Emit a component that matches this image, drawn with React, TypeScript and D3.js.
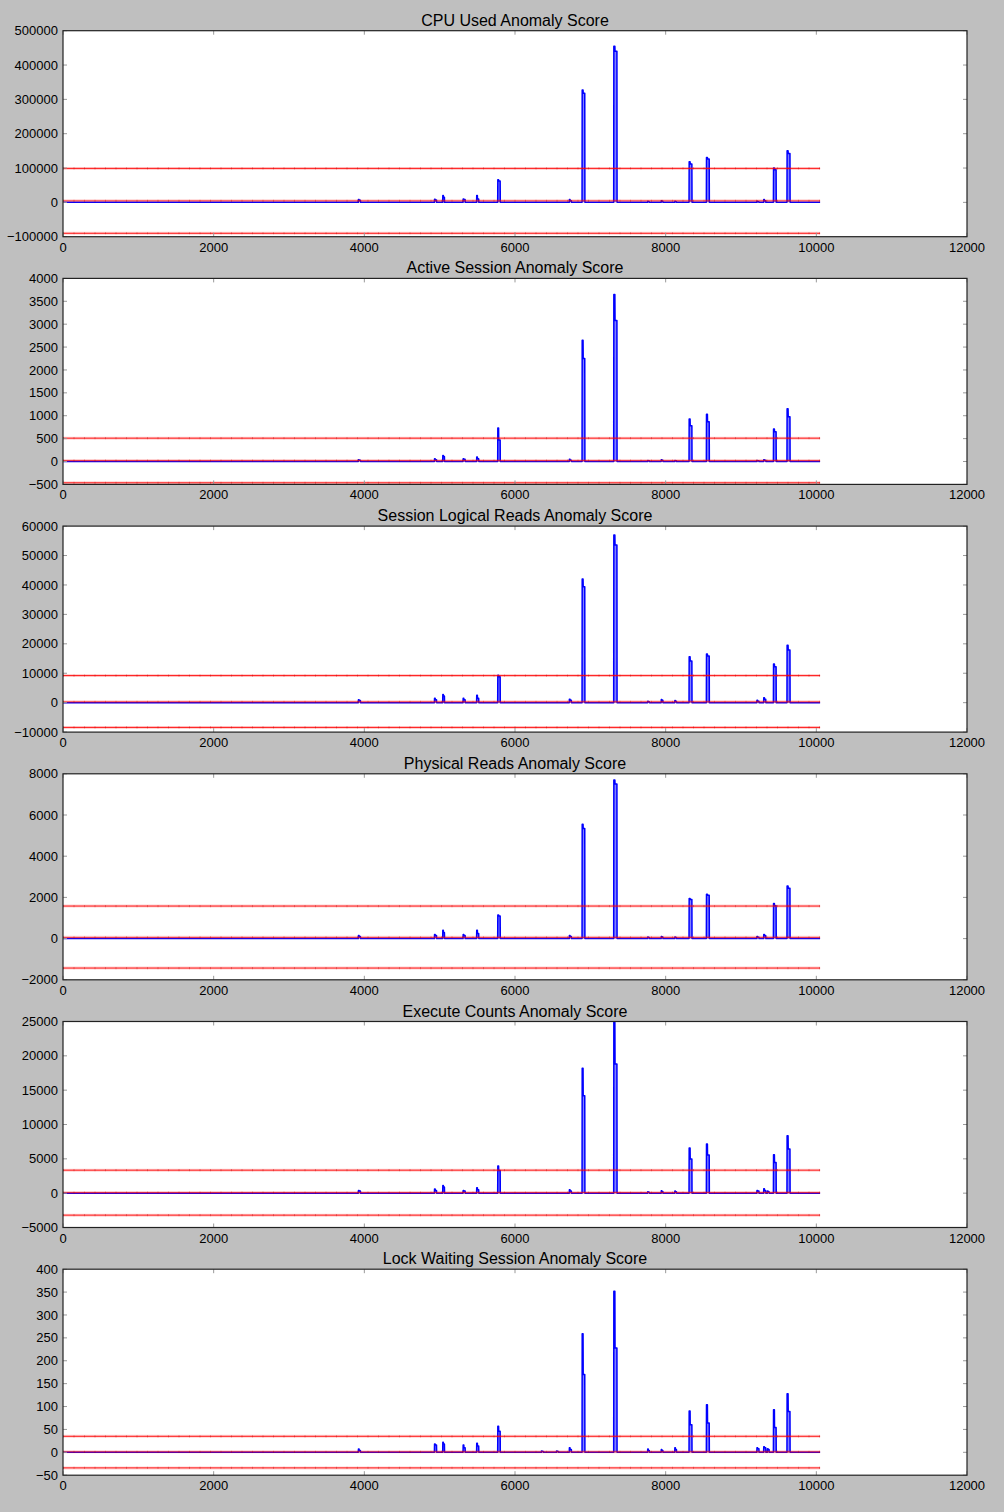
import React from "react";
import * as d3 from "d3";

// shared spike positions (sample index) and widths
const spikeX = [3920, 4930, 5040, 5310, 5490, 5770, 6350, 6550, 6720, 6890, 7310, 7760, 7940, 8120, 8310, 8540, 9210, 9300, 9350, 9430, 9610];
const spikeW = [30, 30, 25, 30, 30, 35, 30, 30, 30, 38, 45, 25, 25, 25, 40, 40, 30, 30, 25, 38, 42];
const xTicks = [0, 2000, 4000, 6000, 8000, 10000, 12000];
const seriesEnd = 10050;

const titles = [
  "CPU Used Anomaly Score",
  "Active Session Anomaly Score",
  "Session Logical Reads Anomaly Score",
  "Physical Reads Anomaly Score",
  "Execute Counts Anomaly Score",
  "Lock Waiting Session Anomaly Score",
];

const cpuPeak = [8000, 9000, 20000, 10000, 20000, 66000, 0, 0, 8000, 327000, 455000, 3000, 5000, 3000, 118000, 131000, 3000, 8000, 0, 100000, 150000];
const cpuTail = [6000, 7000, 15000, 8000, 10000, 62000, 0, 0, 5000, 318000, 440000, 2000, 3000, 2000, 112000, 126000, 2000, 5000, 0, 95000, 142000];
const activePeak = [40, 60, 130, 60, 100, 730, 0, 0, 50, 2650, 3650, 20, 40, 20, 930, 1030, 20, 40, 0, 710, 1150];
const activeTail = [30, 40, 110, 50, 60, 470, 0, 0, 30, 2250, 3080, 15, 30, 15, 780, 870, 15, 30, 0, 650, 980];
const logicalPeak = [1000, 1500, 2800, 1500, 2500, 9300, 0, 0, 1200, 42000, 57000, 500, 1100, 700, 15600, 16500, 800, 1700, 0, 13100, 19500];
const logicalTail = [700, 1000, 2300, 1000, 1500, 8800, 0, 0, 800, 39400, 53600, 300, 800, 500, 14200, 15900, 500, 1200, 0, 12200, 17900];
const physicalPeak = [150, 200, 400, 200, 400, 1150, 0, 0, 150, 5550, 7700, 80, 100, 80, 1950, 2150, 100, 200, 0, 1700, 2550];
const physicalTail = [100, 150, 300, 150, 250, 1100, 0, 0, 100, 5350, 7500, 50, 80, 50, 1900, 2100, 70, 150, 0, 1600, 2450];
const executePeak = [400, 600, 1100, 400, 800, 3950, 0, 0, 500, 18200, 24900, 200, 350, 300, 6570, 7150, 400, 640, 300, 5600, 8360];
const executeTail = [300, 400, 900, 300, 500, 3300, 0, 0, 300, 14200, 18800, 150, 250, 200, 4960, 5550, 300, 400, 200, 4470, 6420];
const lockPeak = [7, 18, 22, 16, 20, 57, 3, 3, 10, 259, 352, 7, 6, 10, 90, 104, 10, 12, 8, 93, 128];
const lockTail = [4, 16, 18, 10, 14, 46, 2, 2, 6, 170, 228, 4, 4, 6, 60, 64, 8, 10, 6, 54, 89];

const peaks = [cpuPeak, activePeak, logicalPeak, physicalPeak, executePeak, lockPeak];
const tails = [cpuTail, activeTail, logicalTail, physicalTail, executeTail, lockTail];

// [upper, mean, lower] threshold lines
const thresholds = [
  [99000, 4500, -90000],
  [510, 20, -465],
  [9200, 300, -8400],
  [1580, 60, -1430],
  [3350, 80, -3200],
  [35, 1, -34],
];
const yDomains = [
  [-100000, 500000],
  [-500, 4000],
  [-10000, 60000],
  [-2000, 8000],
  [-5000, 25000],
  [-50, 400],
];
const yStep = [100000, 500, 10000, 2000, 5000, 50];

const W = 1004;
const H = 1512;
const left = 63;
const right = 967;
const top0 = 30.7;
const pitch = 247.7;
const panelH = 206;
const font = "'Liberation Sans', Arial, Helvetica, sans-serif";

const fmt = (v: number) => (v < 0 ? "\u2212" + Math.abs(v) : String(v));

const Panel: React.FC<{ i: number }> = ({ i }) => {
  const top = top0 + i * pitch;
  const bottom = top + panelH;
  const x = d3.scaleLinear().domain([0, 12000]).range([left, right]);
  const y = d3.scaleLinear().domain(yDomains[i]).range([bottom, top]);
  const [y0, y1] = yDomains[i];
  const yTicks = d3.range(y0, y1 + yStep[i] / 2, yStep[i]);

  const pts: [number, number][] = [[0, 0]];
  spikeX.forEach((sx, k) => {
    const p = peaks[i][k];
    if (p <= 0) return;
    const w = spikeW[k];
    pts.push([sx, 0], [sx + 2, p], [sx + w * 0.35, p], [sx + w * 0.4, tails[i][k]], [sx + w - 2, tails[i][k]], [sx + w, 0]);
  });
  pts.push([seriesEnd, 0]);

  const line = d3.line<[number, number]>().x((d) => x(d[0])).y((d) => y(d[1]));
  const area = d3.area<[number, number]>().x((d) => x(d[0])).y0(y(0)).y1((d) => y(d[1]));
  const clipId = `clip${i}`;

  return (
    <g>
      <rect x={left} y={top} width={right - left} height={panelH} fill="#fff" />
      <clipPath id={clipId}>
        <rect x={left} y={top} width={right - left} height={panelH} />
      </clipPath>
      <g clipPath={`url(#${clipId})`}>
        <path d={area(pts) || ""} fill="#8080ff" />
        <path d={line(pts) || ""} fill="none" stroke="#0000ff" strokeWidth={1.5} strokeLinejoin="round" />
        {thresholds[i].map((t, k) => (
          <g key={k}>
            <line x1={x(0)} x2={x(seriesEnd)} y1={y(t)} y2={y(t)} stroke="#ff0000" strokeOpacity={0.18} strokeWidth={3} />
            <line x1={x(0)} x2={x(seriesEnd)} y1={y(t)} y2={y(t)} stroke="#ff0000" strokeOpacity={k === 1 ? 0.7 : 0.9} strokeWidth={1} />
            <line x1={x(0)} x2={x(seriesEnd)} y1={y(t)} y2={y(t)} stroke="#aa0000" strokeOpacity={0.3} strokeWidth={2.2} strokeDasharray="1 9.5" />
          </g>
        ))}
      </g>
      {/* ticks */}
      {xTicks.map((t) => (
        <g key={"x" + t}>
          <line x1={x(t)} x2={x(t)} y1={bottom} y2={bottom - 4} stroke="#999" />
          <line x1={x(t)} x2={x(t)} y1={top} y2={top + 4} stroke="#999" />
          <text x={x(t)} y={bottom + 15} textAnchor="middle" fontSize={13} fontFamily={font} fill="#000">
            {t}
          </text>
        </g>
      ))}
      {yTicks.map((t) => (
        <g key={"y" + t}>
          <line x1={left} x2={left + 4} y1={y(t)} y2={y(t)} stroke="#999" />
          <line x1={right} x2={right - 4} y1={y(t)} y2={y(t)} stroke="#999" />
          <text x={left - 5} y={y(t)} dy="0.35em" textAnchor="end" fontSize={13} fontFamily={font} fill="#000">
            {fmt(t)}
          </text>
        </g>
      ))}
      <rect x={left} y={top} width={right - left} height={panelH} fill="none" stroke="#222" strokeWidth={1.2} />
      <text x={(left + right) / 2} y={top - 5} textAnchor="middle" fontSize={16} fontFamily={font} fill="#000">
        {titles[i]}
      </text>
    </g>
  );
};

export default function App() {
  return (
    <svg width={W} height={H} style={{ position: "absolute", left: 0, top: 0 }}>
      <rect width={W} height={H} fill="#bfbfbf" />
      {titles.map((_, i) => (
        <Panel key={i} i={i} />
      ))}
    </svg>
  );
}
